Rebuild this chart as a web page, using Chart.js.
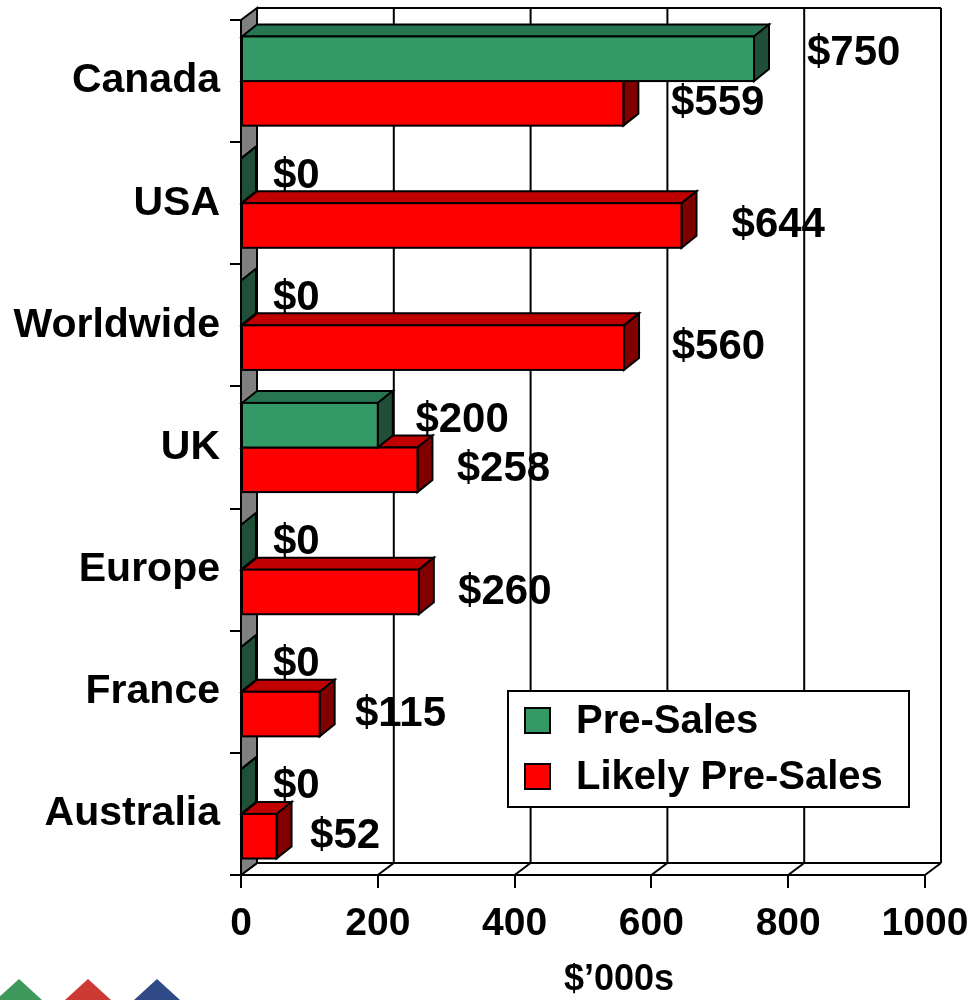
<!DOCTYPE html>
<html>
<head>
<meta charset="utf-8">
<title>Pre-Sales by region</title>
<script src="https://cdn.jsdelivr.net/npm/chart.js@4/dist/chart.umd.min.js"></script>
<style>
  body { margin: 0; background: #fff; }
  #wrap { width: 974px; height: 1000px; }
</style>
</head>
<body>
<div id="wrap"><canvas id="presales"></canvas></div>
<script>
// regions, top to bottom
var categories = ['Canada', 'USA', 'Worldwide', 'UK', 'Europe', 'France', 'Australia'];
var seriesNames = ['Pre-Sales', 'Likely Pre-Sales'];
// $'000s
var preSales = [750, 0, 0, 200, 0, 0, 0];
var likelyPreSales = [559, 644, 560, 258, 260, 115, 52];
var xTickValues = [0, 200, 400, 600, 800, 1000];

var FONT = "'Liberation Sans', Arial, sans-serif";
var faces = [
    {front: '#339966', top: '#287552', side: '#1f4f36'},
    {front: '#ff0000', top: '#c00000', side: '#800000'}
];
var wallDx = 16, wallDy = 12;
var barDx = 15, barDy = 12;

function poly(ctx, pts, fill) {
    ctx.beginPath();
    ctx.moveTo(pts[0][0], pts[0][1]);
    for (var i = 1; i < pts.length; i++) ctx.lineTo(pts[i][0], pts[i][1]);
    ctx.closePath();
    ctx.fillStyle = fill;
    ctx.fill();
    ctx.stroke();
}

function line(ctx, x1, y1, x2, y2) {
    ctx.beginPath();
    ctx.moveTo(x1, y1);
    ctx.lineTo(x2, y2);
    ctx.stroke();
}

var box3d = {
    id: 'box3d',
    beforeDatasetsDraw: function(chart) {
        var ctx = chart.ctx, a = chart.chartArea, xs = chart.scales.x;
        ctx.save();
        ctx.lineWidth = 2;
        ctx.strokeStyle = '#000';
        // back wall
        ctx.fillStyle = '#fff';
        ctx.fillRect(a.left + wallDx, a.top - wallDy, a.right - a.left, a.bottom - a.top);
        xs.ticks.forEach(function(t) {
            var x = xs.getPixelForValue(t.value);
            line(ctx, x + wallDx, a.top - wallDy, x + wallDx, a.bottom - wallDy);
            line(ctx, x, a.bottom, x + wallDx, a.bottom - wallDy);
        });
        line(ctx, a.left + wallDx, a.top - wallDy, a.right + wallDx, a.top - wallDy);
        line(ctx, a.left + wallDx, a.bottom - wallDy, a.right + wallDx, a.bottom - wallDy);
        line(ctx, a.left, a.bottom, a.right, a.bottom);
        // left side wall
        poly(ctx, [[a.left, a.top], [a.left + wallDx, a.top - wallDy],
                   [a.left + wallDx, a.bottom - wallDy], [a.left, a.bottom]], '#808080');
        ctx.restore();
    },
    beforeDatasetDraw: function() {
        return false; // bars are drawn as boxes below
    },
    afterDatasetsDraw: function(chart) {
        var ctx = chart.ctx;
        ctx.save();
        ctx.lineWidth = 2;
        ctx.strokeStyle = '#000';
        var n = chart.data.labels.length;
        // lower bar first so the upper one covers its top face
        for (var i = n - 1; i >= 0; i--) {
            for (var d = chart.data.datasets.length - 1; d >= 0; d--) {
                var el = chart.getDatasetMeta(d).data[i];
                var p = el.getProps(['x', 'y', 'base', 'height'], true);
                var l = Math.min(p.base, p.x), r = Math.max(p.base, p.x);
                var t = p.y - p.height / 2, b = p.y + p.height / 2;
                var f = faces[d];
                poly(ctx, [[l, t], [l + barDx, t - barDy], [r + barDx, t - barDy], [r, t]], f.top);
                poly(ctx, [[r, t], [r + barDx, t - barDy], [r + barDx, b - barDy], [r, b]], f.side);
                if (r > l) {
                    ctx.fillStyle = f.front;
                    ctx.fillRect(l, t, r - l, b - t);
                    ctx.strokeRect(l, t, r - l, b - t);
                }
            }
        }
        // value labels
        ctx.fillStyle = '#000';
        ctx.font = 'bold 42px ' + FONT;
        ctx.textAlign = 'left';
        ctx.textBaseline = 'middle';
        chart.data.datasets.forEach(function(ds, d) {
            var dy = d === 0 ? -5 : 0;
            chart.getDatasetMeta(d).data.forEach(function(el, i) {
                var v = ds.data[i];
                var gap = 32 + v * 0.028;
                ctx.fillText('$' + v, el.x + gap, el.y + dy);
            });
        });
        ctx.restore();
    },
    afterDraw: function(chart) {
        var ctx = chart.ctx;
        ctx.save();
        // legend
        ctx.lineWidth = 2;
        ctx.strokeStyle = '#000';
        ctx.fillStyle = '#fff';
        ctx.fillRect(508, 691, 401, 116);
        ctx.strokeRect(508, 691, 401, 116);
        ctx.font = 'bold 40px ' + FONT;
        ctx.textAlign = 'left';
        ctx.textBaseline = 'middle';
        chart.data.datasets.forEach(function(ds, d) {
            var y = 720 + d * 56;
            ctx.fillStyle = ds.backgroundColor;
            ctx.fillRect(525, y - 12, 25, 25);
            ctx.strokeRect(525, y - 12, 25, 25);
            ctx.fillStyle = '#000';
            ctx.fillText(ds.label, 576, y + 2);
        });
        // axis unit
        ctx.font = 'bold 36px ' + FONT;
        ctx.textAlign = 'center';
        ctx.fillText('$\u2019000s', 619, 980);
        // corner logo
        ctx.strokeStyle = 'transparent';
        poly(ctx, [[-4, 1000], [19, 979], [42, 1000]], '#3d9a5c');
        poly(ctx, [[65, 1000], [88, 979], [111, 1000]], '#cc3a33');
        poly(ctx, [[134, 1000], [157, 979], [180, 1000]], '#2f4a86');
        ctx.restore();
    }
};

var ctxEl = document.getElementById('presales');
new Chart(ctxEl, {
    type: 'bar',
    data: {
        labels: categories,
        datasets: [
            {label: seriesNames[0], data: preSales, backgroundColor: faces[0].front},
            {label: seriesNames[1], data: likelyPreSales, backgroundColor: faces[1].front}
        ]
    },
    options: {
        indexAxis: 'y',
        responsive: true,
        maintainAspectRatio: false,
        animation: false,
        categoryPercentage: 0.73,
        barPercentage: 1.0,
        layout: {padding: {left: 0, top: 20, right: 49, bottom: 0}},
        plugins: {legend: {display: false}, tooltip: {enabled: false}},
        scales: {
            x: {
                min: 0, max: 1000,
                afterBuildTicks: function(s) { s.ticks = xTickValues.map(function(v) { return {value: v}; }); },
                afterFit: function(s) { s.height = 125; s.paddingLeft = 0; s.paddingRight = 0; },
                grid: {drawOnChartArea: false, color: '#000', lineWidth: 2, tickLength: 13},
                border: {display: true, color: '#000', width: 2},
                ticks: {
                    color: '#000', padding: 13, font: {family: FONT, size: 39, weight: 'bold'},
                    callback: function(v) { return String(v); }
                }
            },
            y: {
                afterFit: function(s) { s.width = 241; s.paddingTop = 0; s.paddingBottom = 0; },
                grid: {drawOnChartArea: false, color: '#000', lineWidth: 2, tickLength: 11},
                border: {display: true, color: '#000', width: 2},
                ticks: {color: '#000', padding: 10, font: {family: FONT, size: 41, weight: 'bold'}}
            }
        }
    },
    plugins: [box3d]
});
</script>
</body>
</html>
